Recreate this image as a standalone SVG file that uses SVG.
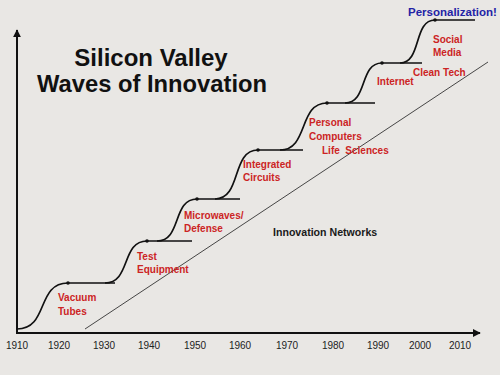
<svg xmlns="http://www.w3.org/2000/svg" width="500" height="375" viewBox="0 0 500 375">
<defs>
<marker id="ah" viewBox="0 0 10 10" refX="9" refY="5" markerWidth="4" markerHeight="4" orient="auto"><path d="M0,0 L10,5 L0,10 z" fill="#111"/></marker>
<style>
.bg{fill:#e9e7e4}
.axis{stroke:#111;stroke-width:2;fill:none}
.wave{stroke:#111;stroke-width:1.7;fill:none}
.net{stroke:#333;stroke-width:0.9;fill:none}
.dot{fill:#111}
.yr{font-family:"Liberation Sans",Arial,sans-serif;font-size:10px;fill:#222;text-anchor:middle}
.title{font-family:"Liberation Sans",Arial,sans-serif;font-size:24px;font-weight:bold;fill:#111}
.lbl{font-family:"Liberation Sans",Arial,sans-serif;font-size:10px;font-weight:bold;fill:#cc2424}
.blk{font-family:"Liberation Sans",Arial,sans-serif;font-size:10.6px;font-weight:bold;fill:#1a1a1a}
.blue{font-family:"Liberation Sans",Arial,sans-serif;font-size:11.5px;font-weight:bold;fill:#2323a6}
</style>
</defs>
<rect class="bg" x="0" y="0" width="500" height="375"/>
<g id="title">
<text class="title" x="151" y="66" text-anchor="middle">Silicon Valley</text>
<text class="title" x="37" y="92" textLength="230" lengthAdjust="spacingAndGlyphs">Waves of Innovation</text>
</g>
<g id="axes">
<line class="axis" x1="17" y1="333" x2="17" y2="30" marker-end="url(#ah)"/>
<line class="axis" x1="16" y1="333" x2="480" y2="333" marker-end="url(#ah)"/>
</g>
<g id="years">
<text class="yr" x="17" y="349">1910</text>
<text class="yr" x="59" y="349">1920</text>
<text class="yr" x="104" y="349">1930</text>
<text class="yr" x="149" y="349">1940</text>
<text class="yr" x="195" y="349">1950</text>
<text class="yr" x="240" y="349">1960</text>
<text class="yr" x="287" y="349">1970</text>
<text class="yr" x="333" y="349">1980</text>
<text class="yr" x="378" y="349">1990</text>
<text class="yr" x="420" y="349">2000</text>
<text class="yr" x="460" y="349">2010</text>
</g>
<g id="connectors">
<line class="net" x1="85" y1="329" x2="488" y2="62"/>
<path class="wave" d="M17,329 C49,329 36,283 68,283 L115,283"/>
<path class="wave" d="M105,283 C131,283 121,241 147,241 L192,241"/>
<path class="wave" d="M157,241 C182,241 172,199 197,199 L240,199"/>
<path class="wave" d="M215,199 C242,199 231,150 258,150 L303,150"/>
<path class="wave" d="M280,150 C309,150 298,103 327,103 L375,103"/>
<path class="wave" d="M345,103 C368,103 359,63 382,63 L422,63"/>
<path class="wave" d="M400,63 C422,63 413,20 435,20 L475,20"/>
<circle class="dot" cx="68" cy="283" r="1.8"/>
<circle class="dot" cx="147" cy="241" r="1.8"/>
<circle class="dot" cx="197" cy="199" r="1.8"/>
<circle class="dot" cx="258" cy="150" r="1.8"/>
<circle class="dot" cx="327" cy="103" r="1.8"/>
<circle class="dot" cx="382" cy="63" r="1.8"/>
<circle class="dot" cx="435" cy="20" r="1.8"/>
</g>
<g id="vacuum"><text class="lbl" x="58" y="301">Vacuum</text><text class="lbl" x="58" y="315">Tubes</text></g>
<g id="test"><text class="lbl" x="137" y="260">Test</text><text class="lbl" x="137" y="273">Equipment</text></g>
<g id="microwaves"><text class="lbl" x="184" y="219">Microwaves/</text><text class="lbl" x="184" y="232">Defense</text></g>
<g id="integrated"><text class="lbl" x="243" y="168">Integrated</text><text class="lbl" x="243" y="181">Circuits</text></g>
<g id="personal"><text class="lbl" x="309" y="126">Personal</text><text class="lbl" x="309" y="140">Computers</text></g>
<g id="life"><text class="lbl" x="322" y="154" xml:space="preserve">Life  Sciences</text></g>
<g id="internet"><text class="lbl" x="377" y="85">Internet</text></g>
<g id="cleantech"><text class="lbl" x="413" y="76">Clean Tech</text></g>
<g id="social"><text class="lbl" x="433" y="43">Social</text><text class="lbl" x="433" y="56">Media</text></g>
<g id="personalization"><text class="blue" x="408" y="16">Personalization!</text></g>
<g id="networks"><text class="blk" x="273" y="236">Innovation Networks</text></g>
</svg>
